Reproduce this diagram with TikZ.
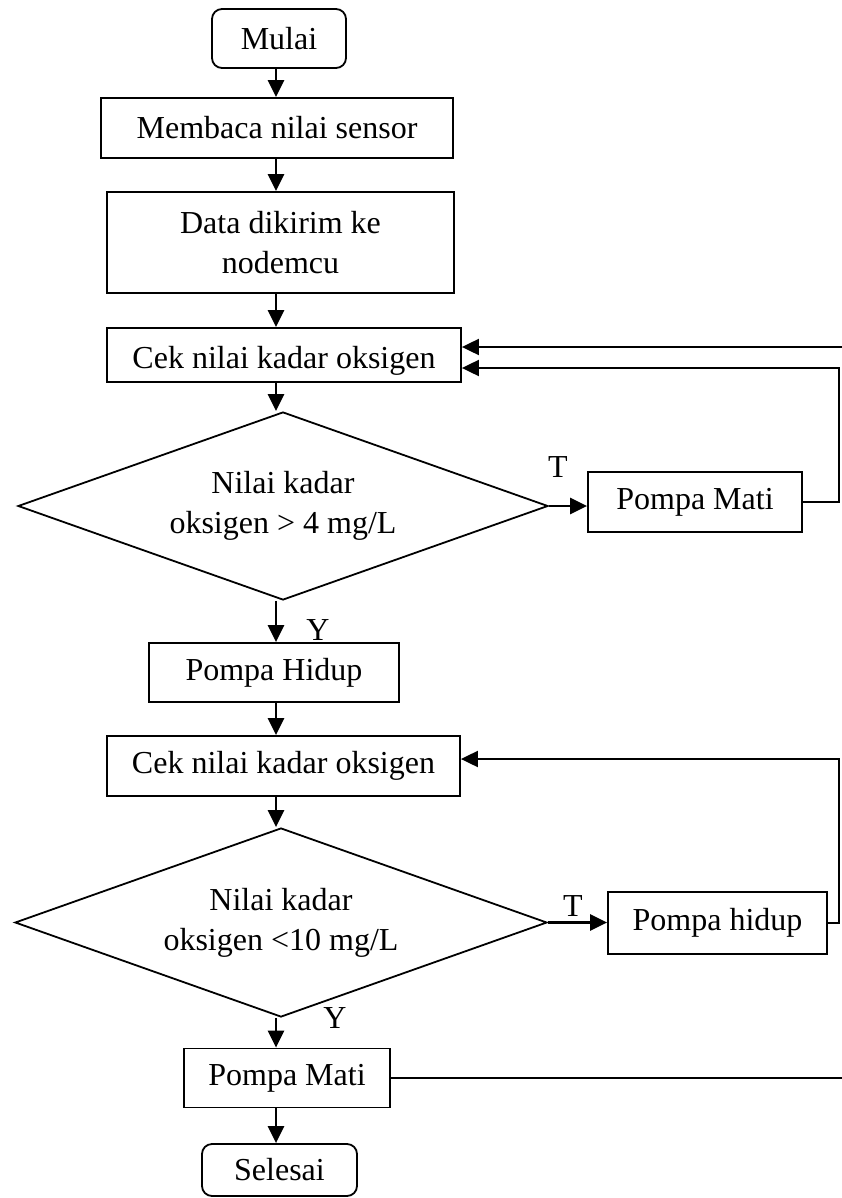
\documentclass[tikz,border=0pt]{standalone}
\usepackage{fontspec}
\setmainfont{Liberation Serif}
\usetikzlibrary{shapes.geometric,arrows.meta}
\begin{document}
\begin{tikzpicture}[x=1pt,y=-1pt,
  every node/.style={font=\fontsize{32}{40}\selectfont},
  box/.style={draw, line width=1.8pt, rectangle, inner sep=0pt, align=center},
  term/.style={box, rounded corners=10pt},
  dec/.style={draw, line width=1.8pt, diamond, aspect=2.8, inner sep=0pt, align=center},
  conn/.style={line width=2.4pt, -{Triangle[length=17pt,width=16pt]}},
  plain/.style={line width=2pt},
  lbl/.style={inner sep=0pt}]
\useasboundingbox (0,0) rectangle (842,1198);

\coordinate (colx) at (276,0);
\coordinate (rx) at (839,0);
\coordinate (e1) at (842,347);
\coordinate (e2) at (842,1078);

\node[term, minimum width=134pt, minimum height=59pt] (mulai) at (279,38.5) {Mulai};
\node[box, minimum width=352pt, minimum height=60pt] (membaca) at (277,128) {Membaca nilai sensor};
\node[box, minimum width=347pt, minimum height=101pt] (data) at (280.5,242.5) {Data dikirim ke\\nodemcu};
\node[box, minimum width=354pt, minimum height=54pt, text height=33pt, text depth=7pt] (cek1) at (284,355) {Cek nilai kadar oksigen};
\node[dec, minimum width=530pt, minimum height=188pt] (d1) at (283,506) {Nilai kadar\\oksigen > 4 mg/L};
\node[box, minimum width=214pt, minimum height=60pt] (pmati1) at (695,502) {Pompa Mati};
\node[box, minimum width=250pt, minimum height=59pt] (phidup) at (274,672.5) {Pompa Hidup};
\node[box, minimum width=353pt, minimum height=60pt] (cek2) at (283.5,766) {Cek nilai kadar oksigen};
\node[dec, minimum width=532pt, minimum height=189pt] (d2) at (281,922.5) {Nilai kadar\\oksigen <10 mg/L};
\node[box, minimum width=219pt, minimum height=62pt] (phidup2) at (717.5,923) {Pompa hidup};
\node[box, minimum width=206pt, minimum height=59pt] (pmati2) at (287,1078) {Pompa Mati};
\node[term, minimum width=155pt, minimum height=52pt] (selesai) at (279.5,1170) {Selesai};

\node[lbl] (t1) at (558,467) {T};
\node[lbl] (y1) at (318,630) {Y};
\node[lbl] (t2) at (573,906) {T};
\node[lbl] (y2) at (335,1018) {Y};

\draw[conn] (mulai.south -| colx) -- (membaca.north -| colx);
\draw[conn] (membaca.south -| colx) -- (data.north -| colx);
\draw[conn] (data.south -| colx) -- (cek1.north -| colx);
\draw[conn] (cek1.south -| colx) -- (d1.north -| colx);
\draw[conn] (d1.south -| colx) -- (phidup.north -| colx);
\draw[conn] (phidup.south -| colx) -- (cek2.north -| colx);
\draw[conn] (cek2.south -| colx) -- (d2.north -| colx);
\draw[conn] (d2.south -| colx) -- (pmati2.north -| colx);
\draw[conn] (pmati2.south -| colx) -- (selesai.north -| colx);

\draw[conn] (d1.east) -- (d1.east -| pmati1.west);
\draw[conn] (d2.east) -- (d2.east -| phidup2.west);

\draw[conn, line width=2pt] (pmati1.east) -- (pmati1.east -| rx) |- ([yshift=-13pt]cek1.east);
\draw[conn, line width=2pt] (e1) -- (e1 -| cek1.east);
\draw[conn, line width=2pt] (phidup2.east) -- (phidup2.east -| rx) |- ([yshift=7pt]cek2.east);
\draw[plain] (pmati2.east) -- (pmati2.east -| e2);
\end{tikzpicture}
\end{document}
